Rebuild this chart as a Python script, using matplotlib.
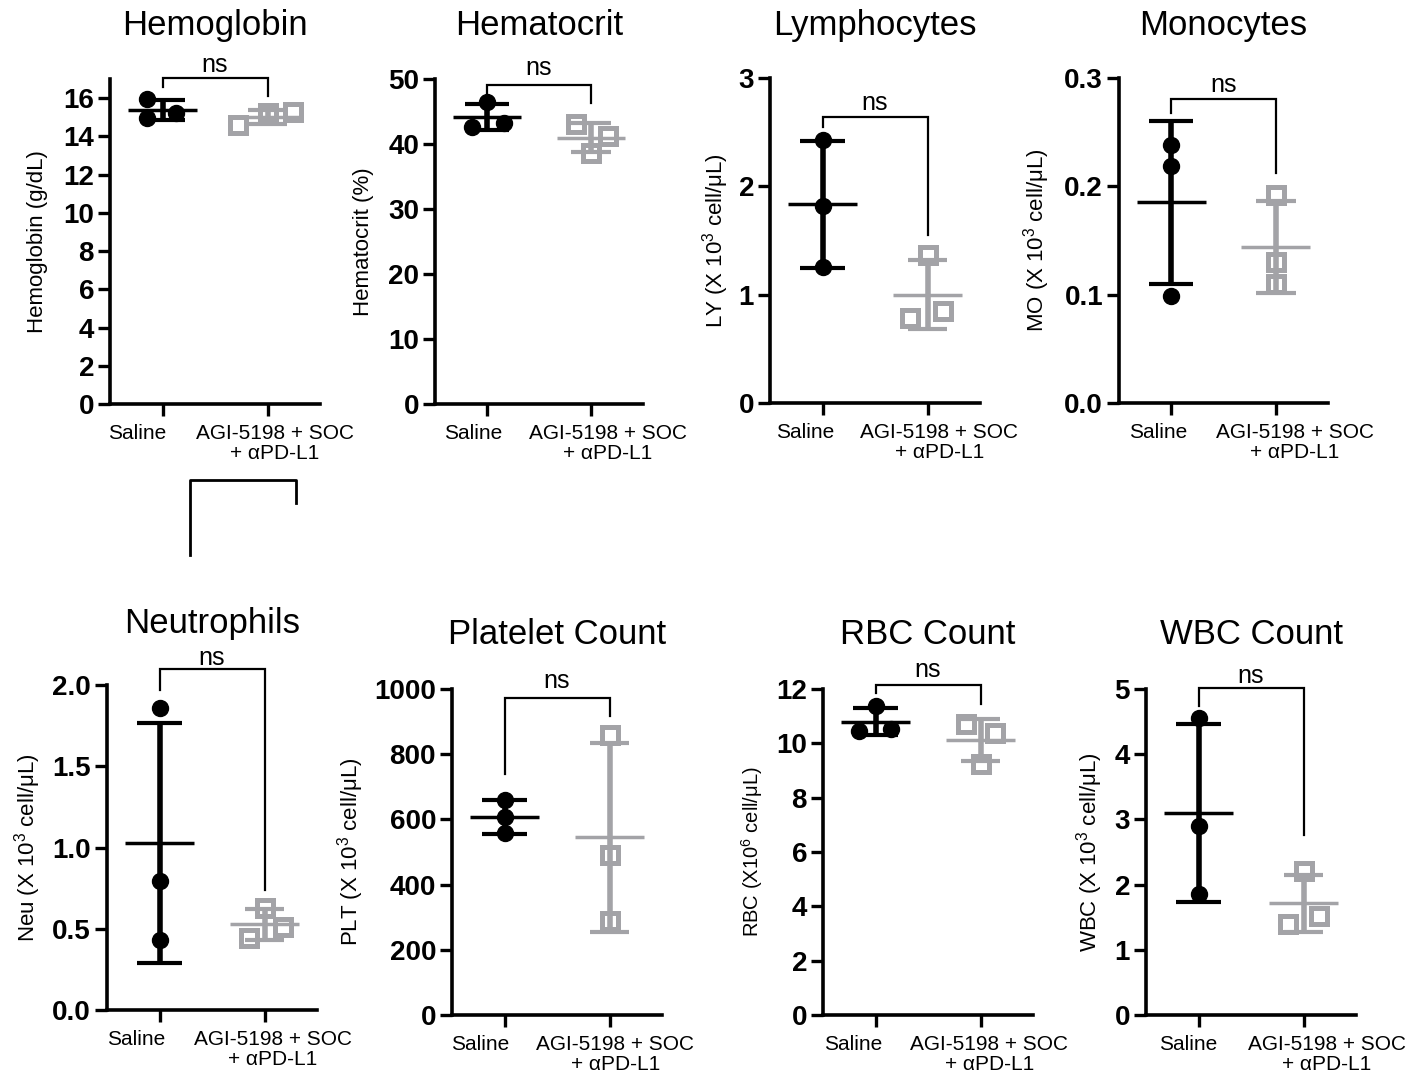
import matplotlib
matplotlib.use('Agg')
import matplotlib.pyplot as plt
import numpy as np
from matplotlib.lines import Line2D
from matplotlib.transforms import offset_copy

plt.rcParams['font.family'] = ['Liberation Sans', 'DejaVu Sans']
plt.rcParams['mathtext.default'] = 'regular'

# ---------------- data ----------------
groups = ['Saline', 'AGI-5198 + SOC\n+ αPD-L1']

hgb_saline = [15.94, 14.98, 15.20]
hgb_treated = [14.60, 15.20, 15.28]
hct_saline = [46.4, 42.6, 43.3]
hct_treated = [43.1, 41.3, 38.6]
ly_saline = [2.43, 1.815, 1.255]
ly_treated = [1.37, 0.785, 0.846]
mo_saline = [0.238, 0.219, 0.099]
mo_treated = [0.192, 0.130, 0.110]
neu_saline = [1.856, 0.796, 0.431]
neu_treated = [0.628, 0.510, 0.443]
plt_saline = [661, 608, 557]
plt_treated = [859, 491, 287]
rbc_saline = [11.36, 10.47, 10.54]
rbc_treated = [10.71, 10.38, 9.25]
wbc_saline = [4.555, 2.90, 1.853]
wbc_treated = [2.216, 1.397, 1.52]

titles = ['Hemoglobin', 'Hematocrit', 'Lymphocytes', 'Monocytes',
          'Neutrophils', 'Platelet Count', 'RBC Count', 'WBC Count']
ylabels = ['Hemoglobin (g/dL)', 'Hematocrit (%)',
           'LY (X 10$^3$ cell/μL)', 'MO (X 10$^3$ cell/μL)',
           'Neu (X 10$^3$ cell/μL)', 'PLT (X 10$^3$ cell/μL)',
           'RBC (X10$^6$ cell/μL)', 'WBC (X 10$^3$ cell/μL)']
yticks = [[0, 2, 4, 6, 8, 10, 12, 14, 16], [0, 10, 20, 30, 40, 50],
          [0, 1, 2, 3], [0.0, 0.1, 0.2, 0.3],
          [0.0, 0.5, 1.0, 1.5, 2.0], [0, 200, 400, 600, 800, 1000],
          [0, 2, 4, 6, 8, 10, 12], [0, 1, 2, 3, 4, 5]]
ytick_fmt = ['{:.0f}', '{:.0f}', '{:.0f}', '{:.1f}', '{:.1f}', '{:.0f}', '{:.0f}', '{:.0f}']
ytops = [17, 50, 3, 0.3, 2.0, 1000, 12, 5]

saline_sets = [hgb_saline, hct_saline, ly_saline, mo_saline,
               neu_saline, plt_saline, rbc_saline, wbc_saline]
treated_sets = [hgb_treated, hct_treated, ly_treated, mo_treated,
                neu_treated, plt_treated, rbc_treated, wbc_treated]

# significance bracket: (top, left leg end, right leg end, label baseline)
ns_brackets = [(17.06, 16.56, 16.1, 17.35), (49.1, 47.8, 46.3, 50.6),
               (2.637, 2.55, 1.55, 2.705), (0.281, 0.268, 0.212, 0.287),
               (2.096, 1.97, 0.74, 2.125), (972, 740, 916, 1003),
               (12.16, 11.85, 11.46, 12.44), (5.015, 4.74, 2.76, 5.09)]
ns_label = 'ns'

# ---------------- style / layout ----------------
W, H = 1408, 1078
BLACK = '#000000'
GRAY = '#A3A3A7'

# horizontal jitter of points (category units)
saline_dx = [[-0.15, -0.15, 0.13], [0, -0.14, 0.16], [0, 0, 0], [0, 0, 0],
             [0, 0, 0], [0, 0, 0], [0, -0.155, 0.15], [0, 0, 0]]
treated_dx = [[-0.28, 0.0, 0.24], [-0.14, 0.16, 0], [0, -0.17, 0.15], [0, 0, 0],
              [0, 0.18, -0.15], [0, 0, 0], [-0.14, 0.14, 0], [0, -0.15, 0.15]]

# pixel boxes: (spine_x, right_x, top_y, bottom_y)
boxes = [(110, 320, 79, 404), (435, 643, 79, 404), (770, 980, 78, 403), (1119, 1328, 78, 403),
         (107, 317, 685, 1010), (452, 662, 689, 1015), (823, 1033, 689, 1015), (1146, 1356, 689, 1015)]
ylabel_x = [38, 363, 716, 1037, 28, 351, 752, 1090]
ylabel_fs = [16, 16, 16, 16, 16, 16, 14.5, 16]
title_base = [35, 35, 35, 35, 633, 644, 644, 644]
# horizontal pixel offsets of category labels (Saline, treated)
lab_dx = [(-25, 7), (-14, 17), (-17, 12), (-13, 19),
          (-23, 8), (-24, 6), (-22, 9), (-10, 23)]

fig = plt.figure(figsize=(W / 100, H / 100), dpi=100)


def draw_group(ax, x0, vals, dx, color, square, cap_hw):
    vals = np.asarray(vals, dtype=float)
    xs = x0 + np.asarray(dx)
    if square:
        ax.plot(xs, vals, 's', ms=11.5, mfc='white', mec=color, mew=3.6,
                zorder=3, clip_on=False, linestyle='none')
    else:
        ax.plot(xs, vals, 'o', ms=11.5, color=color, zorder=3, clip_on=False,
                linestyle='none')
    m = vals.mean()
    sd = vals.std(ddof=1)
    ax.vlines(x0, m - sd, m + sd, color=color, lw=4, zorder=4)
    ax.hlines([m - sd, m + sd], x0 - cap_hw, x0 + cap_hw, color=color, lw=3, zorder=4)
    ax.hlines(m, x0 - 0.33, x0 + 0.33, color=color, lw=2.5, zorder=4)


for i in range(8):
    sx, rx, ty, by = boxes[i]
    ax = fig.add_axes([sx / W, 1 - by / H, (rx - sx) / W, (by - ty) / H])
    ax.set_xlim(-0.5, 1.5)
    ax.set_ylim(0, ytops[i])
    for s in ['top', 'right']:
        ax.spines[s].set_visible(False)
    for s in ['left', 'bottom']:
        ax.spines[s].set_linewidth(2.6)
    ax.set_yticks(yticks[i])
    ax.set_yticklabels([ytick_fmt[i].format(v) for v in yticks[i]],
                       fontsize=20, fontweight='bold')
    ax.tick_params(axis='y', length=8.5, width=2.4, pad=3)
    ax.set_xticks([0, 1])
    ax.set_xticklabels([])
    ax.tick_params(axis='x', length=8.5, width=2.4)
    # category labels (offset like the reference)
    for xc, lab, dxp in zip([0, 1], groups, lab_dx[i]):
        tr = offset_copy(ax.get_xaxis_transform(), fig=fig, x=dxp, y=-20, units='dots')
        ax.text(xc, 0, lab, transform=tr, ha='center', va='top', fontsize=15,
                linespacing=1.05, multialignment='center')

    draw_group(ax, 0, saline_sets[i], saline_dx[i], BLACK, False, 0.21)
    draw_group(ax, 1, treated_sets[i], treated_dx[i], GRAY, True, 0.19)

    top, lleg, rleg, nsy = ns_brackets[i]
    ax.plot([0, 0, 1, 1], [lleg, top, top, rleg], color=BLACK, lw=1.6,
            clip_on=False, zorder=5, solid_joinstyle='miter')
    ax.text(0.5, nsy, ns_label, ha='center', va='baseline', fontsize=18, clip_on=False)

    # y label
    fig.text(ylabel_x[i] / W, 1 - ((ty + by) / 2) / H, ylabels[i], rotation=90,
             ha='center', va='center', fontsize=ylabel_fs[i])
    # title
    fig.text(((sx + rx) / 2) / W, 1 - title_base[i] / H, titles[i], ha='center',
             va='baseline', fontsize=25)

# stray bracket under the Hemoglobin panel (as in the reference)
fig.add_artist(Line2D([190 / W, 190 / W, 296 / W, 296 / W],
                      [1 - 555 / H, 1 - 480 / H, 1 - 480 / H, 1 - 503 / H],
                      transform=fig.transFigure, color=BLACK, lw=2))

fig.savefig('out.png', dpi=100)
